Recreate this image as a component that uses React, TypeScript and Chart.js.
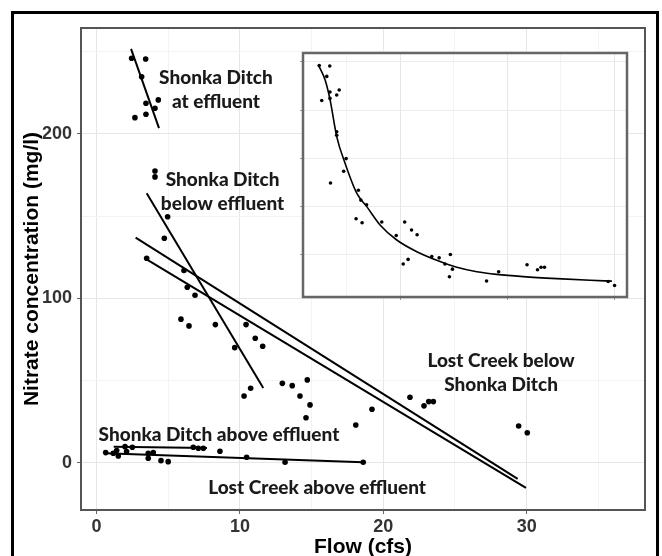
import React, { useEffect, useRef } from "react";
import { Chart, registerables } from "chart.js";

Chart.register(...registerables);

// ---- Main chart data (Flow in cfs, Nitrate in mg/l) ----
const shonkaAtX = [2.45, 3.43, 3.15, 3.45, 4.31, 4.08, 2.68, 3.45];
const shonkaAtY = [246.0, 245.6, 234.8, 218.7, 220.7, 215.6, 209.9, 212.0];
const shonkaAtFitX = [2.41, 4.36];
const shonkaAtFitY = [251.7, 203.5];

const shonkaBelowX = [4.08, 4.08, 4.96, 4.73, 6.1, 6.33, 6.87, 5.89, 6.45, 8.29, 9.64, 10.29, 10.75];
const shonkaBelowY = [177.5, 173.9, 149.7, 136.6, 117.0, 106.8, 101.9, 87.4, 83.3, 84.1, 70.1, 40.7, 45.4];
const shonkaBelowFitX = [3.5, 11.63];
const shonkaBelowFitY = [164.0, 45.6];

const lostBelowX = [3.5, 10.43, 11.07, 11.59, 12.96, 13.65, 14.7, 14.19, 14.89, 14.61, 18.08, 19.21, 21.86, 22.84, 23.17, 23.49, 29.44, 30.04];
const lostBelowY = [124.4, 84.1, 75.8, 70.9, 48.4, 47.0, 50.5, 40.7, 35.3, 27.5, 23.1, 32.6, 39.9, 34.7, 37.3, 37.3, 22.5, 18.4];
const lostBelowFitAX = [2.73, 29.37];
const lostBelowFitAY = [137.0, -9.7];
const lostBelowFitBX = [3.38, 29.95];
const lostBelowFitBY = [124.4, -15.2];

const shonkaAboveX = [1.41, 1.99, 2.5, 3.61, 3.96, 6.75, 7.1, 7.45];
const shonkaAboveY = [7.5, 9.9, 9.5, 5.9, 6.3, 9.5, 8.9, 8.9];
const shonkaAboveFitX = [1.2, 7.7];
const shonkaAboveFitY = [9.8, 9.1];

const lostAboveX = [0.64, 1.17, 1.52, 2.1, 3.61, 4.5, 5.0, 8.61, 10.47, 13.15, 18.6];
const lostAboveY = [6.3, 5.9, 4.3, 6.9, 2.9, 1.4, 0.8, 7.1, 3.5, 0.4, 0.4];
const lostAboveFitX = [0.6, 18.6];
const lostAboveFitY = [5.9, 0.4];

// ---- Inset smooth curve ----
const insetCurveX = [2.36, 2.99, 3.46, 4.08, 4.86, 5.95, 6.89, 8.13, 9.69, 11.56, 13.43, 15.3, 17.17, 19.04, 21.52, 24.64, 27.76, 29.79];
const insetCurveY = [246.7, 231.2, 210.5, 172.5, 144.9, 113.9, 100.0, 81.1, 65.5, 53.4, 44.5, 37.2, 32.6, 29.9, 27.6, 25.5, 23.8, 22.9];

// ---- Axis ticks ----
const xTickVals = [0, 5, 10, 15, 20, 25, 30, 35];
const xLabelVals = [0, 10, 20, 30];
const yTickVals = [0, 50, 100, 150, 200, 250];
const yLabelVals = [0, 100, 200];
const insetXTicks = [5, 10, 15, 20, 25, 30];
const insetYTicks = [50, 100, 150, 200, 250];

// ---- Annotations ----
const annoText = [
  ["Shonka Ditch", "at effluent"],
  ["Shonka Ditch", "below effluent"],
  ["Lost Creek below", "Shonka Ditch"],
  ["Shonka Ditch above effluent"],
  ["Lost Creek above effluent"],
];
const annoX = [8.33, 8.79, 28.21, 8.54, 15.38];
const annoY = [233.9, 172.0, 62.2, 17.0, -15.4];

const pts = (xs: number[], ys: number[]) => xs.map((x, i) => ({ x, y: ys[i] }));

const SANS = "'Liberation Sans', Arial, sans-serif";

function pointSet(xs: number[], ys: number[], r: number) {
  return {
    type: "scatter" as const,
    data: pts(xs, ys),
    pointRadius: r,
    pointBackgroundColor: "#000",
    pointBorderWidth: 0,
    showLine: false,
  };
}
function lineSet(xs: number[], ys: number[], w: number, extra: any = {}) {
  return {
    type: "line" as const,
    data: pts(xs, ys),
    borderColor: "#000",
    borderWidth: w,
    pointRadius: 0,
    fill: false,
    ...extra,
  };
}

const panelBorder = (color: string, width: number) => ({
  id: "panelBorder",
  beforeDraw(chart: any) {
    const { ctx, chartArea: a } = chart;
    ctx.save();
    ctx.fillStyle = "#fff";
    ctx.fillRect(a.left, a.top, a.right - a.left, a.bottom - a.top);
    ctx.restore();
  },
  afterDraw(chart: any) {
    const { ctx, chartArea: a } = chart;
    ctx.save();
    ctx.strokeStyle = color;
    ctx.lineWidth = width;
    ctx.strokeRect(a.left, a.top, a.right - a.left, a.bottom - a.top);
    ctx.restore();
  },
});

const annoPlugin = {
  id: "anno",
  afterDatasetsDraw(chart: any) {
    const { ctx, scales } = chart;
    ctx.save();
    ctx.font = "900 19px Lato, 'Open Sans', sans-serif";
    ctx.fillStyle = "#1a1a1a";
    ctx.textAlign = "center";
    ctx.textBaseline = "middle";
    annoText.forEach((lines, i) => {
      const px = scales.x.getPixelForValue(annoX[i]);
      const py = scales.y.getPixelForValue(annoY[i]);
      lines.forEach((t, j) => ctx.fillText(t, px, py + j * 24));
    });
    ctx.restore();
  },
};

const gridColor = (major: number) => (ctx: any) =>
  ctx.tick && ctx.tick.value % major === 0 ? "#e6e6e6" : "#f3f3f3";

export default function App() {
  const mainRef = useRef<HTMLCanvasElement>(null);
  const insetRef = useRef<HTMLCanvasElement>(null);

  useEffect(() => {
    const main = new Chart(mainRef.current!, {
      type: "scatter",
      data: {
        datasets: [
          lineSet(shonkaAtFitX, shonkaAtFitY, 2),
          lineSet(shonkaBelowFitX, shonkaBelowFitY, 2),
          lineSet(lostBelowFitAX, lostBelowFitAY, 2),
          lineSet(lostBelowFitBX, lostBelowFitBY, 2),
          lineSet(shonkaAboveFitX, shonkaAboveFitY, 2),
          lineSet(lostAboveFitX, lostAboveFitY, 2),
          pointSet(shonkaAtX, shonkaAtY, 2.8),
          pointSet(shonkaBelowX, shonkaBelowY, 2.8),
          pointSet(lostBelowX, lostBelowY, 2.8),
          pointSet(shonkaAboveX, shonkaAboveY, 2.8),
          pointSet(lostAboveX, lostAboveY, 2.8),
        ] as any,
      },
      options: {
        animation: false,
        responsive: false,
        devicePixelRatio: 1,
        layout: { padding: { left: 19, top: 28, right: 17, bottom: 0 } },
        plugins: { legend: { display: false }, tooltip: { enabled: false } },
        scales: {
          x: {
            type: "linear",
            min: -1.08,
            max: 38.25,
            afterBuildTicks: (s: any) => {
              s.ticks = xTickVals.map((v) => ({ value: v }));
            },
            afterFit: (s: any) => {
              s.height = 46;
            },
            ticks: {
              autoSkip: false,
              maxRotation: 0,
              padding: 2,
              color: "#333",
              font: { family: SANS, size: 18, weight: "bold" },
              callback: (v: any) => (xLabelVals.includes(v) ? String(v) : ""),
            },
            grid: {
              color: gridColor(10),
              tickLength: 4,
              tickColor: (ctx: any) => (ctx.tick && ctx.tick.value % 10 === 0 ? "#666" : "rgba(0,0,0,0)"),
            },
            border: { display: false },
            title: {
              display: true,
              text: "Flow (cfs)",
              color: "#000",
              font: { family: SANS, size: 21, weight: "bold" },
              padding: { top: 0, bottom: -4 },
            },
          },
          y: {
            type: "linear",
            min: -28.6,
            max: 264.4,
            afterBuildTicks: (s: any) => {
              s.ticks = yTickVals.map((v) => ({ value: v }));
            },
            afterFit: (s: any) => {
              s.width = 62;
            },
            ticks: {
              autoSkip: false,
              padding: 5,
              color: "#333",
              font: { family: SANS, size: 18, weight: "bold" },
              callback: (v: any) => (yLabelVals.includes(v) ? String(v) : ""),
            },
            grid: {
              color: gridColor(100),
              tickLength: 4,
              tickColor: (ctx: any) => (ctx.tick && ctx.tick.value % 100 === 0 ? "#666" : "rgba(0,0,0,0)"),
            },
            border: { display: false },
            title: {
              display: true,
              text: "Nitrate concentration (mg/l)",
              color: "#000",
              font: { family: SANS, size: 21, weight: "bold" },
              padding: { top: 1, bottom: 0 },
            },
          },
        },
      } as any,
      plugins: [panelBorder("#555", 2), annoPlugin],
    });

    const inset = new Chart(insetRef.current!, {
      type: "scatter",
      data: {
        datasets: [
          lineSet(insetCurveX, insetCurveY, 1.6, { cubicInterpolationMode: "monotone" }),
          pointSet(shonkaAtX, shonkaAtY, 1.8),
          pointSet(shonkaBelowX, shonkaBelowY, 1.8),
          pointSet(lostBelowX, lostBelowY, 1.8),
        ] as any,
      },
      options: {
        animation: false,
        responsive: false,
        devicePixelRatio: 1,
        layout: { padding: { left: 0, top: 5, right: 6, bottom: 0 } },
        plugins: { legend: { display: false }, tooltip: { enabled: false } },
        scales: {
          x: {
            type: "linear",
            min: 0.93,
            max: 31.2,
            afterBuildTicks: (s: any) => {
              s.ticks = insetXTicks.map((v) => ({ value: v }));
            },
            afterFit: (s: any) => {
              s.height = 5;
            },
            ticks: { display: false },
            grid: {
              color: gridColor(10),
              tickLength: 3,
              tickColor: (ctx: any) => (ctx.tick && ctx.tick.value % 10 === 0 ? "#999" : "rgba(0,0,0,0)"),
            },
            border: { display: false },
          },
          y: {
            type: "linear",
            min: 6.5,
            max: 259,
            afterBuildTicks: (s: any) => {
              s.ticks = insetYTicks.map((v) => ({ value: v }));
            },
            afterFit: (s: any) => {
              s.width = 5;
            },
            ticks: { display: false },
            grid: { color: "#ececec", tickLength: 3, tickColor: "#999" },
            border: { display: false },
          },
        },
      } as any,
      plugins: [panelBorder("#666", 2.5)],
    });

    return () => {
      main.destroy();
      inset.destroy();
    };
  }, []);

  return (
    <div
      style={{
        position: "fixed",
        left: 0,
        top: 0,
        width: 662,
        height: 556,
        overflow: "hidden",
        background: "#fff",
      }}
    >
      <canvas ref={mainRef} width={662} height={556} style={{ position: "absolute", left: 0, top: 0 }} />
      <canvas ref={insetRef} width={335} height={254} style={{ position: "absolute", left: 298, top: 48 }} />
      <div
        style={{
          position: "absolute",
          left: 11,
          top: 11,
          width: 648,
          height: 600,
          border: "3px solid #000",
          boxSizing: "border-box",
          pointerEvents: "none",
        }}
      />
    </div>
  );
}
